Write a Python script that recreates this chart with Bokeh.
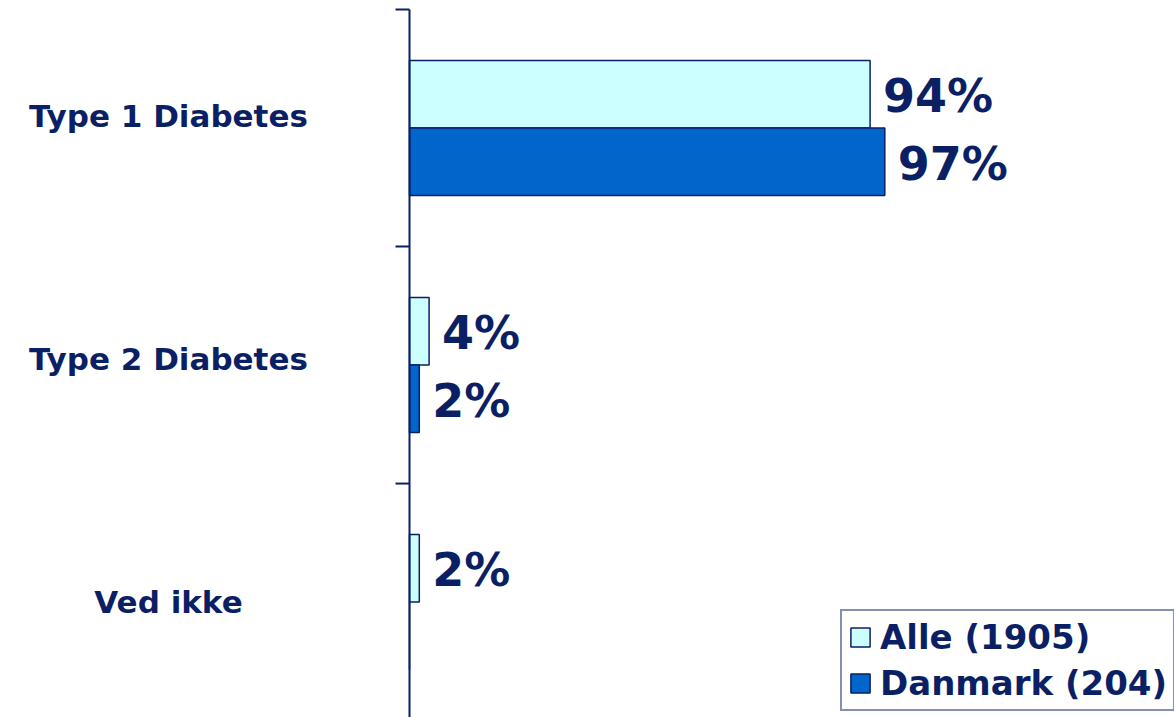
from bokeh.plotting import figure
from bokeh.models import ColumnDataSource, Range1d, Legend, LegendItem
from bokeh.core.properties import value
from bokeh.embed import file_html
from bokeh.resources import INLINE

# ---- data ----
categories = ["Type 1 Diabetes", "Type 2 Diabetes", "Ved ikke"]
series_names = ["Alle (1905)", "Danmark (204)"]
alle = [94, 4, 2]
danmark = [97, 2, 0]

# ---- style ----
NAVY = "#0B1F65"
fill_colors = ["#CCFFFF", "#0066CC"]
FONT = value("DejaVu Sans")

W, H = 1174, 717
axis_px = 409          # pixel position of the value axis inside the figure
px_per_unit = 4.9

p = figure(width=W, height=H, output_backend="svg", toolbar_location=None,
           x_range=Range1d(-axis_px / px_per_unit, (W - axis_px) / px_per_unit),
           y_range=Range1d(2.987, -0.038),
           x_axis_location=None, y_axis_location=None,
           min_border=0, outline_line_color=None)
p.grid.visible = False

centers = [i + 0.5 for i in range(len(categories))]
bar_h = 0.285
offsets = [-0.1425, 0.1425]

renderers = []
for name, vals, col, off in zip(series_names, [alle, danmark], fill_colors, offsets):
    src = ColumnDataSource(dict(y=[c + off for c in centers], right=vals))
    r = p.hbar(y="y", left=0, right="right", height=bar_h, source=src,
               fill_color=col, line_color=NAVY, line_width=1.5)
    renderers.append(r)
    lab = ColumnDataSource(dict(
        y=[c + off for c, v in zip(centers, vals) if v > 0],
        x=[v for v in vals if v > 0],
        t=[f"{v}%" for v in vals if v > 0]))
    p.text(x="x", y="y", text="t", source=lab, x_offset=13, y_offset=2,
           text_baseline="middle", text_align="left",
           text_font=FONT, text_font_style="bold", text_font_size="46px",
           text_color=NAVY)

# category labels
label_x = (168 - axis_px) / px_per_unit
cat_src = ColumnDataSource(dict(x=[label_x] * len(categories), y=centers,
                                t=categories, dy=[-12, -6, 0]))
p.text(x="x", y="y", text="t", y_offset="dy", source=cat_src,
       text_align="center", text_baseline="middle",
       text_font=FONT, text_font_style="bold", text_font_size="31px",
       text_color=NAVY)

# value axis line and category boundary ticks
bounds = list(range(len(categories) + 1))
p.segment(x0=[0], x1=[0], y0=[bounds[0]], y1=[bounds[-1]], line_color=NAVY, line_width=2)
tick_len = 14 / px_per_unit
p.segment(x0=[-tick_len] * len(bounds), x1=[0] * len(bounds), y0=bounds, y1=bounds,
          line_color=NAVY, line_width=2)

legend = Legend(items=[LegendItem(label=n, renderers=[r]) for n, r in zip(series_names, renderers)],
                location=(840, 6), orientation="vertical",
                label_text_font="DejaVu Sans", label_text_font_style="bold",
                label_text_font_size="34px", label_text_color=NAVY,
                border_line_color=NAVY, border_line_width=2,
                glyph_width=24, glyph_height=24, label_standoff=8,
                padding=6, spacing=6, margin=0,
                background_fill_color="white", background_fill_alpha=1)
p.add_layout(legend)

open("out.html", "w").write(file_html(p, INLINE))
